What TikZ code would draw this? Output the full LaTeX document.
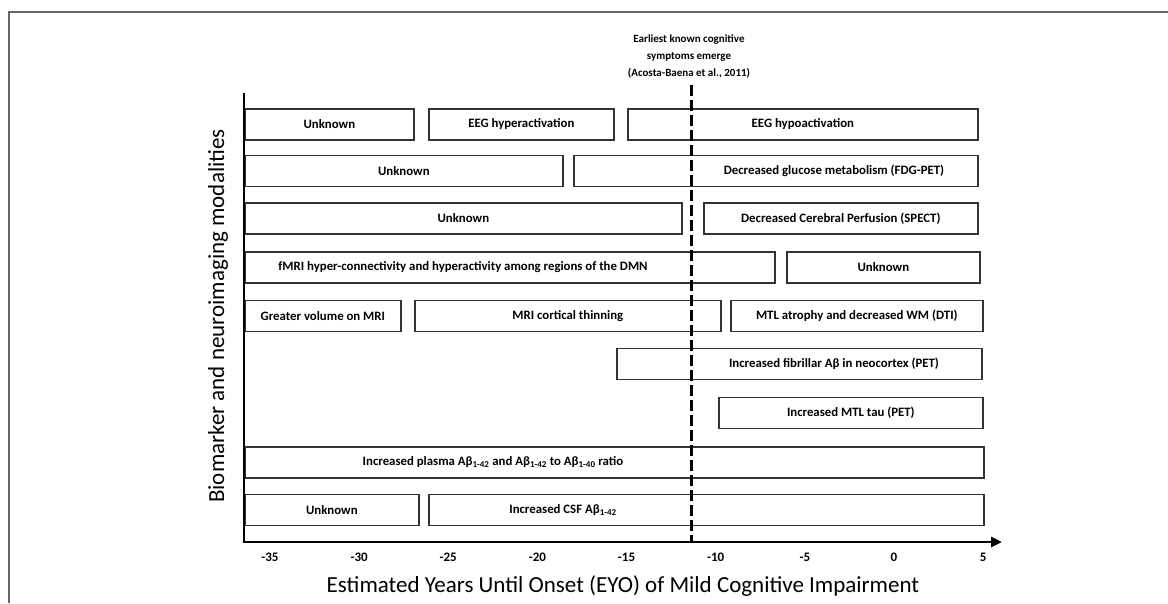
\documentclass[tikz,border=0pt]{standalone}
\usepackage{fontspec}
\setmainfont{Carlito}
\usetikzlibrary{arrows.meta}

\begin{document}
\begin{tikzpicture}[x=1pt, y=-1pt,
  bar/.style={draw=black!80, line width=1.7pt, anchor=west, minimum height=31pt, inner sep=0pt, font=\bfseries\fontsize{12.8}{15}\selectfont},
  bartext/.style={font=\bfseries\fontsize{12.8}{15}\selectfont, inner sep=0pt},
  tick/.style={font=\bfseries\fontsize{13}{15}\selectfont},
  axtitle/.style={font=\fontsize{23}{27}\selectfont}]
\useasboundingbox (0,0) rectangle (1168,603);
% outer frame (cut off)
\draw[black!60, line width=1.5pt] (9,603) -- (9,12) -- (1168,12);

% EEG
\node[bar, minimum width=169pt] (eegU) at (244,124.5) {Unknown};
\node[bar, minimum width=185pt] (eegHyper) at (428,124.5) {EEG hyperactivation};
\node[bar, minimum width=350pt] (eegHypo) at (627,124.5) {EEG hypoactivation};
% FDG-PET
\node[bar, minimum width=318pt] (fdgU) at (244,171) {Unknown};
\node[bar, minimum width=404pt] (fdg) at (573,171) {};
\node[bartext] (fdgT) at (834,171) {Decreased glucose metabolism (FDG-PET)};
% SPECT
\node[bar, minimum width=437pt] (spectU) at (244,218.5) {Unknown};
\node[bar, minimum width=274pt] (spect) at (703,218.5) {Decreased Cerebral Perfusion (SPECT)};
% fMRI
\node[bar, minimum width=530pt] (fmri) at (244,267.5) {};
\node[bartext] (fmriT) at (463,267.5) {fMRI hyper-connectivity and hyperactivity among regions of the DMN};
\node[bar, minimum width=193pt] (fmriU) at (786,267.5) {Unknown};
% MRI
\node[bar, minimum width=156pt] (mriVol) at (244,316) {Greater volume on MRI};
\node[bar, minimum width=306pt] (mriThin) at (414,316) {MRI cortical thinning};
\node[bar, minimum width=252pt] (dti) at (730,316) {MTL atrophy and decreased WM (DTI)};
% amyloid PET
\node[bar, minimum width=365pt] (amyPet) at (616,364) {};
\node[bartext] (amyPetT) at (834,364) {Increased fibrillar Aβ in neocortex (PET)};
% tau PET
\node[bar, minimum width=264pt] (tauPet) at (718,413) {Increased MTL tau (PET)};
% plasma
\node[bar, minimum width=739pt] (plasma) at (244,462.5) {};
\node[bartext] (plasmaT) at (493,462.5) {Increased plasma Aβ\textsubscript{1-42} and Aβ\textsubscript{1-42} to Aβ\textsubscript{1-40} ratio};
% CSF
\node[bar, minimum width=174pt] (csfU) at (244,510) {Unknown};
\node[bar, minimum width=555pt] (csf) at (428,510) {};
\node[bartext] (csfT) at (563,510) {Increased CSF Aβ\textsubscript{1-42}};

% axes
\coordinate (ytop) at (244,93);
\coordinate (orig) at (244,542);
\coordinate (xend) at (1002,542);
\draw[line width=2.8pt, -{Triangle[length=11pt,width=10pt]}] (ytop) -- (orig) -- (xend);
\foreach \yr in {-35,-30,...,5}
  \node[tick] (tick\yr) at ({894+17.83*\yr},557) {\yr};
\node[axtitle] (xtitle) at (623,586) {Estimated Years Until Onset (EYO) of Mild Cognitive Impairment};
\node[axtitle, rotate=90] (ytitle) at (218,316) {Biomarker and neuroimaging modalities};

% onset of symptoms
\coordinate (dtop) at (691,85);
\coordinate (dbot) at (691,542);
\draw[line width=3pt, dash pattern=on 11pt off 4pt] (dtop) -- (dbot);
\node[font=\bfseries\fontsize{11}{17}\selectfont, align=center] (onset) at (689,56)
  {Earliest known cognitive\\symptoms emerge\\(Acosta-Baena et al., 2011)};
\end{tikzpicture}
\end{document}
